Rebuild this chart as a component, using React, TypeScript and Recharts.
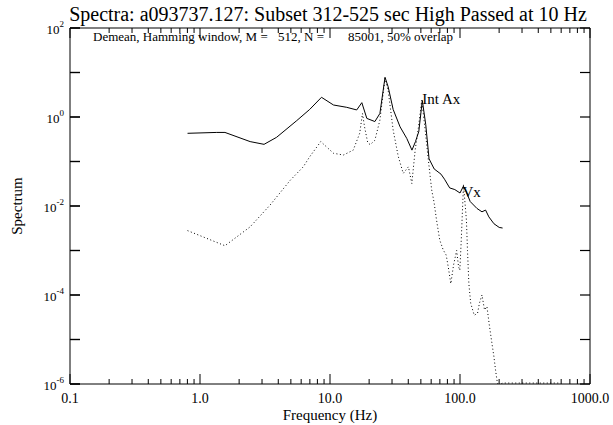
import { LineChart, Line, XAxis, YAxis, ReferenceDot } from "recharts";

const FONT = "'Liberation Serif', 'DejaVu Serif', serif";
const INK = "#000";

// solid curve (Int Ax)
const freqSolid = [0.802, 1.346, 1.556, 2.43, 3.11, 3.885, 5.55, 6.98, 8.6, 10.64, 13.45, 16.05, 17.57, 19.2, 22.14, 24.2, 26.5, 28.0, 30.6, 34.6, 38.96, 42.7, 45.45, 48.2, 51.3, 54.5, 57.8, 63.3, 71.4, 76.0, 83.3, 91.2, 100, 106.2, 112.8, 119.8, 135.1, 147.6, 157.3, 166.7, 182.4, 200.2, 212.6];
const specSolid = [0.43, 0.45, 0.45, 0.28, 0.243, 0.35, 0.83, 1.48, 2.77, 1.86, 1.65, 1.44, 2.1, 0.93, 0.79, 1.2, 7.8, 4.8, 1.48, 0.6, 0.33, 0.18, 0.28, 0.47, 2.35, 0.68, 0.115, 0.068, 0.052, 0.04, 0.0255, 0.0234, 0.0196, 0.0279, 0.0196, 0.0126, 0.0088, 0.0074, 0.0081, 0.0057, 0.004, 0.0033, 0.0032];

// dotted curve (Vx)
const freqDotted = [0.802, 1.556, 2.43, 3.46, 4.95, 6.23, 6.98, 8.49, 10.64, 12.69, 15.08, 16.92, 17.78, 18.44, 19.53, 20.4, 22.14, 24.2, 26.5, 28.0, 30.6, 33.5, 36.6, 40.1, 42.6, 45.2, 47.8, 50.8, 53.95, 57.1, 60.55, 63.2, 65.95, 69.8, 74.25, 78.3, 81.2, 85.0, 89.2, 94.2, 97.5, 99.7, 102, 106.4, 112, 114.2, 117, 120.9, 128.7, 136.5, 141, 147.6, 154.4, 161.1, 168.9, 174.5, 182.4, 187.9, 193.5, 199.1, 210.4, 277.8, 390.7, 572];
const specDotted = [0.0028, 0.00128, 0.0034, 0.0105, 0.038, 0.076, 0.128, 0.28, 0.153, 0.14, 0.18, 0.43, 1.2, 0.6, 0.26, 0.24, 0.3, 0.85, 7.4, 4.0, 0.51, 0.13, 0.054, 0.076, 0.032, 0.18, 0.56, 2.4, 0.51, 0.108, 0.023, 0.012, 0.0049, 0.00173, 0.00103, 0.00079, 0.00043, 0.00018, 0.00047, 0.001, 0.00043, 0.00036, 0.00145, 0.03, 0.0049, 0.001, 0.00018, 6.5e-5, 3.5e-5, 3.9e-5, 6.5e-5, 1e-4, 4.6e-5, 5.5e-5, 1.9e-5, 9.8e-6, 4.1e-6, 2e-6, 1.1e-6, 8e-7, 1.05e-6, 1.05e-6, 1.05e-6, 1.05e-6];

const xMajor = [0.1, 1, 10, 100, 1000];
const xLabels = ["0.1", "1.0", "10.0", "100.0", "1000.0"];
const minorSteps = [2, 3, 4, 5, 6, 7, 8, 9];
const yTicks = [1e-6, 1e-5, 1e-4, 1e-3, 1e-2, 1e-1, 1, 10, 100];

const xTicks = [
  ...xMajor,
  ...xMajor.slice(0, 4).flatMap((d) => minorSteps.map((k) => Number((d * k).toPrecision(3)))),
].sort((a, b) => a - b);

const solidData = freqSolid.map((f, i) => ({ f, s: specSolid[i] }));
const dottedData = freqDotted.map((f, i) => ({ f, s: specDotted[i] }));

const tickLen = (v: number) => (xMajor.indexOf(v) >= 0 ? 10 : 5);

// bottom axis: inward ticks + labels
function BottomTick(p: any) {
  const x = Number(p.x), y = Number(p.y);
  const i = xMajor.indexOf(p.payload.value);
  return (
    <g>
      <line x1={x} x2={x} y1={y} y2={y - tickLen(p.payload.value)} stroke={INK} strokeWidth={1} />
      {i >= 0 && (
        <text x={x} y={y + 19} textAnchor="middle" fontSize={14} fontFamily={FONT} fill={INK}>
          {xLabels[i]}
        </text>
      )}
    </g>
  );
}

function LeftLabel(p: any) {
  const x = Number(p.x), y = Number(p.y);
  const e = Math.round(Math.log10(p.payload.value));
  return (
    <g>
      <rect x={x} y={y - 0.6} width={10} height={1.2} fill={INK} />
      {e % 2 === 0 && (
        <text x={x - 6} y={y + 6} textAnchor="end" fontSize={13} fontFamily={FONT} fill={INK}>
          <tspan>10</tspan>
          <tspan dy={-7} fontSize={9}>{e}</tspan>
        </text>
      )}
    </g>
  );
}

const xCommon = {
  type: "number" as const,
  scale: "log" as const,
  domain: [0.1, 1000],
  ticks: xTicks,
  interval: 0,
  tickSize: 0,
  tickMargin: 0,
  tickLine: false,
  allowDataOverflow: true,
  axisLine: { stroke: INK },
};

const yCommon = {
  type: "number" as const,
  scale: "log" as const,
  domain: [1e-6, 100],
  ticks: yTicks,
  interval: 0,
  tickSize: 0,
  tickMargin: 0,
  tickLine: false,
  allowDataOverflow: true,
  axisLine: { stroke: INK },
};

export default function App() {
  return (
    <div style={{ position: "absolute", left: 0, top: 0, background: "#fff" }}>
      <LineChart width={613} height={425} margin={{ top: 0, right: 0, bottom: 0, left: 0 }}>
        <XAxis {...xCommon} xAxisId="b" dataKey="f" height={41} tick={<BottomTick />} />
        <XAxis {...xCommon} xAxisId="t" orientation="top" height={28} tick={false} />
        <YAxis {...yCommon} yAxisId="l" width={70} tick={<LeftLabel />} />
        <YAxis {...yCommon} yAxisId="r" orientation="right" width={23} tick={false} />

        <Line
          xAxisId="b"
          yAxisId="l"
          data={dottedData}
          dataKey="s"
          stroke={INK}
          strokeWidth={1}
          strokeDasharray="1 2.5"
          dot={false}
          type="linear"
          isAnimationActive={false}
        />
        <Line
          xAxisId="b"
          yAxisId="l"
          data={solidData}
          dataKey="s"
          stroke={INK}
          strokeWidth={1}
          dot={false}
          type="linear"
          isAnimationActive={false}
        />

        {/* inward ticks on the top frame */}
        {xTicks.map((v) => (
          <ReferenceDot
            key={`t${v}`}
            xAxisId="b"
            yAxisId="l"
            x={v}
            y={100}
            r={0}
            ifOverflow="visible"
            shape={(p: any) => (
              <line x1={p.cx} x2={p.cx} y1={p.cy} y2={p.cy + tickLen(v)} stroke={INK} strokeWidth={1} />
            )}
          />
        ))}
        {/* inward ticks on the left and right frame */}
        {yTicks.map((v) => (
          <ReferenceDot
            key={`l${v}`}
            xAxisId="b"
            yAxisId="l"
            x={0.1}
            y={v}
            r={0}
            ifOverflow="visible"
            shape={(p: any) => <rect x={p.cx} y={p.cy - 0.6} width={10} height={1.2} fill={INK} />}
          />
        ))}
        {yTicks.map((v) => (
          <ReferenceDot
            key={`r${v}`}
            xAxisId="b"
            yAxisId="l"
            x={1000}
            y={v}
            r={0}
            ifOverflow="visible"
            shape={(p: any) => <rect x={p.cx - 10} y={p.cy - 0.6} width={10} height={1.2} fill={INK} />}
          />
        ))}

        <ReferenceDot
          xAxisId="b"
          yAxisId="l"
          x={51.3}
          y={2.35}
          r={0}
          shape={(p: any) => (
            <text x={p.cx} y={p.cy + 4} fontSize={15} fontFamily={FONT} fill={INK}>
              Int Ax
            </text>
          )}
        />
        <ReferenceDot
          xAxisId="b"
          yAxisId="l"
          x={106.2}
          y={0.0279}
          r={0}
          shape={(p: any) => (
            <text x={p.cx - 1} y={p.cy + 11} fontSize={15} fontFamily={FONT} fill={INK}>
              Vx
            </text>
          )}
        />

        <text x={328} y={21} textAnchor="middle" fontSize={20} fontFamily={FONT} fill={INK}>
          Spectra: a093737.127: Subset 312-525 sec High Passed at 10 Hz
        </text>
        <text y={41} fontSize={13} fontFamily={FONT} fill={INK}>
          <tspan x={93}>Demean, Hamming window, M =</tspan>
          <tspan x={278}>512, N =</tspan>
          <tspan x={348}>85001, 50% overlap</tspan>
        </text>
        <text x={330} y={420} textAnchor="middle" fontSize={15} fontFamily={FONT} fill={INK}>
          Frequency (Hz)
        </text>
        <text
          x={0}
          y={0}
          transform="translate(22,206) rotate(-90)"
          textAnchor="middle"
          fontSize={15}
          fontFamily={FONT}
          fill={INK}
        >
          Spectrum
        </text>
      </LineChart>
    </div>
  );
}
